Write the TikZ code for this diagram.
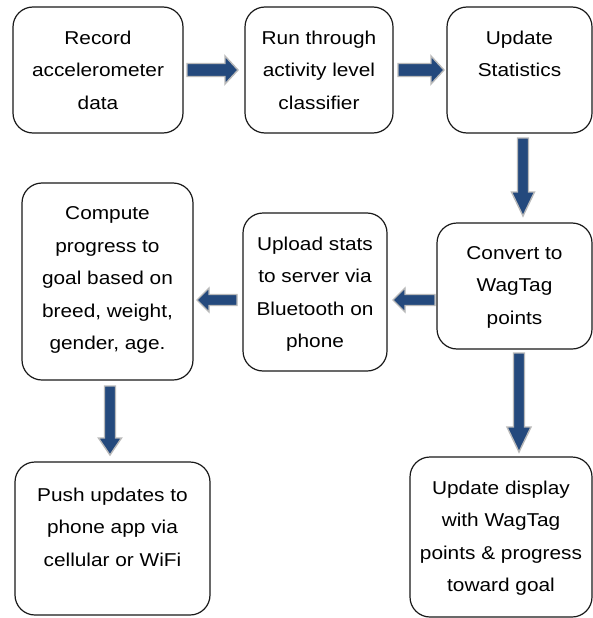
\documentclass[tikz,border=0pt]{standalone}
\usepackage{fontspec}
\setmainfont{Liberation Sans}[FakeStretch=1.12]
\usetikzlibrary{calc}

\definecolor{arrowblue}{RGB}{36,73,125}
\definecolor{arrowrim}{RGB}{185,185,185}
\definecolor{boxline}{RGB}{25,25,25}

\tikzset{
  stepbox/.style={draw=boxline, line width=1.2pt, rounded corners=20pt, inner sep=0pt},
  steptext/.style={align=center, inner sep=0pt, font=\fontsize{18.6}{32.5}\selectfont},
  blockarrow/.style={fill=arrowblue, draw=arrowrim, line width=1.4pt, line join=miter},
}

% block arrow from coordinate #1 to coordinate #2:
% #3 half shaft width, #4 half head width, #5 head length
\newcommand\blockarrow[5]{%
  \coordinate (#2-hb) at ($(#2)!#5!(#1)$);
  \draw[blockarrow]
    ($(#1)!#3!90:(#2)$) -- ($(#2-hb)!#3!90:(#2)$) -- ($(#2-hb)!#4!90:(#2)$)
    -- (#2)
    -- ($(#2-hb)!#4!-90:(#2)$) -- ($(#2-hb)!#3!-90:(#2)$) -- ($(#1)!#3!-90:(#2)$)
    -- cycle;
}

\begin{document}
\begin{tikzpicture}[x=1pt, y=-1pt]
  \useasboundingbox (0,0) rectangle (593,618);

  % process boxes
  \node[stepbox, minimum width=170pt, minimum height=126pt] (b1) at (98,70) {};
  \node[stepbox, minimum width=148pt, minimum height=126pt] (b2) at (319,70) {};
  \node[stepbox, minimum width=145pt, minimum height=126pt] (b3) at (519.5,70) {};
  \node[stepbox, minimum width=155pt, minimum height=126pt] (b4) at (514.5,286) {};
  \node[stepbox, minimum width=144pt, minimum height=158pt] (b5) at (315,292) {};
  \node[stepbox, minimum width=171pt, minimum height=197pt] (b6) at (107.5,281.5) {};
  \node[stepbox, minimum width=195pt, minimum height=153pt] (b7) at (112.5,538.5) {};
  \node[stepbox, minimum width=182pt, minimum height=160pt] (b8) at (501,537) {};

  % box texts
  \node[steptext] (t1) at (98,70) {Record\\accelerometer\\data};
  \node[steptext] (t2) at (319,70) {Run through\\activity level\\classifier};
  \node[steptext] (t3) at (519.5,54) {Update\\Statistics};
  \node[steptext] (t4) at (514.5,287) {Convert to\\WagTag\\points};
  \node[steptext] (t5) at (315,294) {Upload stats\\to server via\\Bluetooth on\\phone};
  \node[steptext] (t6) at (107.5,280) {Compute\\progress to\\goal based on\\breed, weight,\\gender, age.};
  \node[steptext] (t7) at (112.5,527) {Push updates to\\phone app via\\cellular or WiFi};
  \node[steptext] (t8) at (501,538) {Update display\\with WagTag\\points \& progress\\toward goal};

  % arrow end points
  \coordinate (a12s) at (187,70);   \coordinate (a12e) at (238,70);
  \coordinate (a23s) at (398,70);   \coordinate (a23e) at (444,70);
  \coordinate (a34s) at (523,138);  \coordinate (a34e) at (523,216);
  \coordinate (a45s) at (435,300);  \coordinate (a45e) at (393,300);
  \coordinate (a56s) at (237,300);  \coordinate (a56e) at (197,300);
  \coordinate (a67s) at (110,386);  \coordinate (a67e) at (110,455);
  \coordinate (a48s) at (519,353);  \coordinate (a48e) at (519,452);

  % block arrows
  \blockarrow{a12s}{a12e}{6.5pt}{14pt}{13pt}
  \blockarrow{a23s}{a23e}{6.5pt}{14pt}{13pt}
  \blockarrow{a34s}{a34e}{5.5pt}{11.5pt}{24pt}
  \blockarrow{a45s}{a45e}{5.5pt}{12pt}{12pt}
  \blockarrow{a56s}{a56e}{5.5pt}{12pt}{12pt}
  \blockarrow{a67s}{a67e}{5.5pt}{11.5pt}{17pt}
  \blockarrow{a48s}{a48e}{5.5pt}{12pt}{25pt}
\end{tikzpicture}
\end{document}
